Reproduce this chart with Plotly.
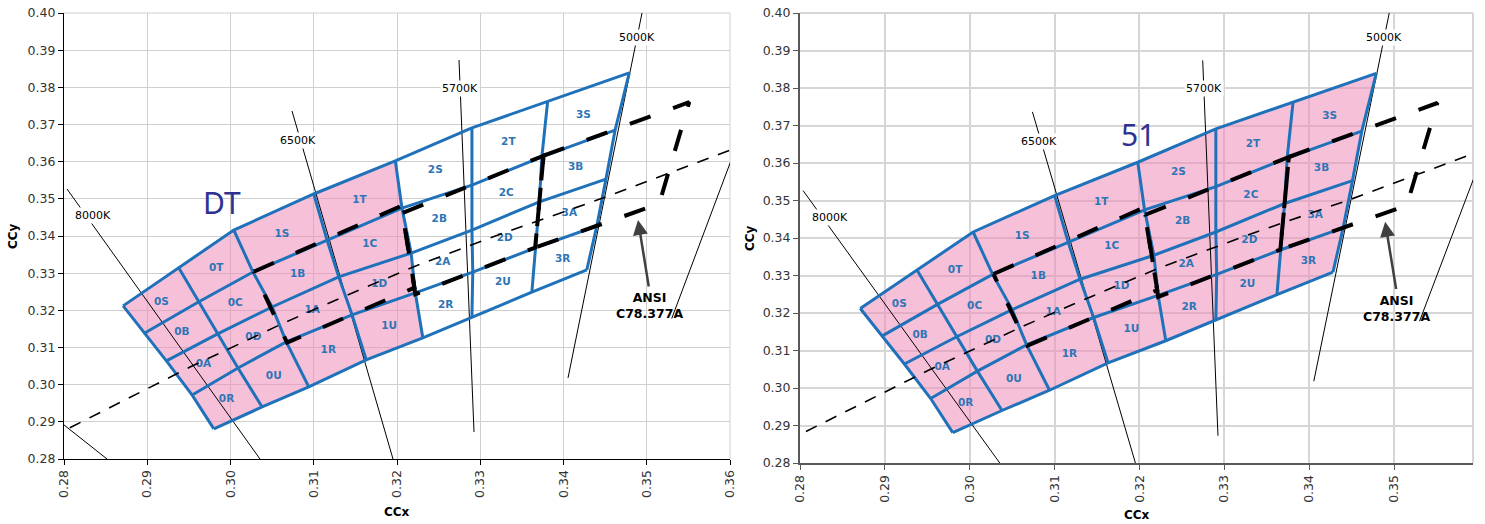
import plotly.graph_objects as go

# ---------------- data ----------------
# grid node coordinates (CIE x, y); rows = bin boundaries from top (S/T side) to bottom (R/U side)
row0_x = [0.2871, 0.2938, 0.3004, 0.3100, 0.3198, 0.3290, 0.3381, 0.3479]
row0_y = [0.3212, 0.3314, 0.3416, 0.3513, 0.3602, 0.3691, 0.3763, 0.3839]
row1_x = [0.2897, 0.2962, 0.3027, 0.3116, 0.3206, 0.3290, 0.3374, 0.3462]
row1_y = [0.3139, 0.3223, 0.3303, 0.3389, 0.3475, 0.3537, 0.3613, 0.3685]
row2_x = [0.2923, 0.2984, 0.3050, 0.3130, 0.3217, 0.3290, 0.3371, 0.3451]
row2_y = [0.3064, 0.3136, 0.3209, 0.3290, 0.3354, 0.3416, 0.3492, 0.3553]
row3_x = [0.2954, 0.3009, 0.3067, 0.3146, 0.3222, 0.3291, 0.3366, 0.3440]
row3_y = [0.2972, 0.3045, 0.3115, 0.3188, 0.3247, 0.3303, 0.3368, 0.3427]
row4_x = [0.2980, 0.3038, 0.3094, 0.3163, 0.3231, 0.3290, 0.3362, 0.3428]
row4_y = [0.2881, 0.2940, 0.2994, 0.3067, 0.3126, 0.3182, 0.3249, 0.3309]
rows_x = [row0_x, row1_x, row2_x, row3_x, row4_x]
rows_y = [row0_y, row1_y, row2_y, row3_y, row4_y]

bin_names = [
    ["0S", "0T", "1S", "1T", "2S", "2T", "3S"],
    ["0B", "0C", "1B", "1C", "2B", "2C", "3B"],
    ["0A", "0D", "1A", "1D", "2A", "2D", "3A"],
    ["0R", "0U", "1R", "1U", "2R", "2U", "3R"],
]

# ANSI C78.377A quadrangles
ansi_6500_x = [0.3028, 0.3205, 0.3221, 0.3068]
ansi_6500_y = [0.3304, 0.3481, 0.3261, 0.3113]
ansi_5700_x = [0.3207, 0.3376, 0.3366, 0.3222]
ansi_5700_y = [0.3462, 0.3616, 0.3369, 0.3243]
ansi_5000_x = [0.3376, 0.3551, 0.3515, 0.3366]
ansi_5000_y = [0.3616, 0.3760, 0.3487, 0.3369]

# Planckian locus
planck_x = [0.2807, 0.2952, 0.3064, 0.3135, 0.3221, 0.3324, 0.3451, 0.3611]
planck_y = [0.2884, 0.3048, 0.3166, 0.3236, 0.3318, 0.3405, 0.3505, 0.3640]

# isotherm lines
iso_8000_x = [0.28036, 0.30354]; iso_8000_y = [0.35265, 0.28]
iso_6500_x = [0.30739, 0.31952]; iso_6500_y = [0.37363, 0.28]
iso_5700_x = [0.32745, 0.32925]; iso_5700_y = [0.38736, 0.28727]
iso_5000_x = [0.34943, 0.34054]; iso_5000_y = [0.40, 0.30180]
iso_4500_x = [0.3530, 0.3620];   iso_4500_y = [0.3178, 0.3715]
iso_10000_x = [0.2800, 0.28517]; iso_10000_y = [0.28916, 0.28]

iso_labels = ["8000K", "6500K", "5700K", "5000K"]
iso_label_x = [0.28348, 0.30811, 0.32757, 0.34883]
iso_label_y = [0.34539, 0.36583, 0.37982, 0.39354]

ansi_label_pos = (0.3503, 0.3212)
arrow_head = (0.34895, 0.34431)
arrow_tail = (0.35027, 0.32602)

x_ticks = [0.28, 0.29, 0.30, 0.31, 0.32, 0.33, 0.34, 0.35, 0.36]
y_ticks = [0.28, 0.29, 0.30, 0.31, 0.32, 0.33, 0.34, 0.35, 0.36, 0.37, 0.38, 0.39, 0.40]

# ---------------- style / page geometry ----------------
BLUE = "#1F72BA"
LABEL_BLUE = "#2E75B6"
PINK = "rgba(240,140,185,0.55)"
FONT = "DejaVu Sans"

W, H = 1485, 524


def fx(px):
    return px / W


def fy(py):
    return 1 - py / H


fig = go.Figure()


def add_chart(xa, ya, pink_cols, big_text, big_pos, extra_line):
    px = rows_x[0][:pink_cols + 1] + [rows_x[k][pink_cols] for k in range(1, 5)] \
        + rows_x[4][:pink_cols][::-1] + [rows_x[k][0] for k in range(3, -1, -1)]
    py = rows_y[0][:pink_cols + 1] + [rows_y[k][pink_cols] for k in range(1, 5)] \
        + rows_y[4][:pink_cols][::-1] + [rows_y[k][0] for k in range(3, -1, -1)]
    fig.add_trace(go.Scatter(x=px, y=py, fill="toself", fillcolor=PINK, mode="none",
                             xaxis=xa, yaxis=ya, hoverinfo="skip", showlegend=False))
    isos = [(iso_8000_x, iso_8000_y), (iso_6500_x, iso_6500_y), (iso_5700_x, iso_5700_y),
            (iso_5000_x, iso_5000_y), (iso_4500_x, iso_4500_y)]
    if extra_line:
        isos.append((iso_10000_x, iso_10000_y))
    for ix, iy in isos:
        fig.add_trace(go.Scatter(x=ix, y=iy, mode="lines", line=dict(color="black", width=1),
                                 xaxis=xa, yaxis=ya, hoverinfo="skip", showlegend=False))
    for k in range(5):
        fig.add_trace(go.Scatter(x=rows_x[k], y=rows_y[k], mode="lines",
                                 line=dict(color=BLUE, width=3),
                                 xaxis=xa, yaxis=ya, hoverinfo="skip", showlegend=False))
    for c in range(8):
        fig.add_trace(go.Scatter(x=[rows_x[k][c] for k in range(5)],
                                 y=[rows_y[k][c] for k in range(5)], mode="lines",
                                 line=dict(color=BLUE, width=3),
                                 xaxis=xa, yaxis=ya, hoverinfo="skip", showlegend=False))
    lx, ly, lt = [], [], []
    for r in range(4):
        for c in range(7):
            cx = (rows_x[r][c] + rows_x[r][c + 1] + rows_x[r + 1][c] + rows_x[r + 1][c + 1]) / 4
            cy = (rows_y[r][c] + rows_y[r][c + 1] + rows_y[r + 1][c] + rows_y[r + 1][c + 1]) / 4
            lx.append(cx); ly.append(cy); lt.append(bin_names[r][c])
    fig.add_trace(go.Scatter(x=lx, y=ly, text=lt, mode="text",
                             textfont=dict(family=FONT, size=10.5, color=LABEL_BLUE, weight="bold"),
                             xaxis=xa, yaxis=ya, hoverinfo="skip", showlegend=False))
    fig.add_trace(go.Scatter(x=planck_x, y=planck_y, mode="lines",
                             line=dict(color="black", width=1.6, dash="12px,10px"),
                             xaxis=xa, yaxis=ya, hoverinfo="skip", showlegend=False))
    for qx, qy in [(ansi_6500_x, ansi_6500_y), (ansi_5700_x, ansi_5700_y), (ansi_5000_x, ansi_5000_y)]:
        fig.add_trace(go.Scatter(x=qx + qx[:1], y=qy + qy[:1], mode="lines",
                                 line=dict(color="black", width=4, dash="22px,24px"),
                                 xaxis=xa, yaxis=ya, hoverinfo="skip", showlegend=False))

    anns = []
    for t, tx, ty in zip(iso_labels, iso_label_x, iso_label_y):
        anns.append(dict(x=tx, y=ty, xref=xa, yref=ya, text=t, showarrow=False,
                         xanchor="center", yanchor="middle",
                         bgcolor="white", borderpad=1,
                         font=dict(family=FONT, size=11, color="black")))
    anns.append(dict(x=ansi_label_pos[0], y=ansi_label_pos[1], xref=xa, yref=ya,
                     xanchor="center", yanchor="middle",
                     text="<b>ANSI</b><br><b>C78.377A</b>", showarrow=False,
                     font=dict(family=FONT, size=12.5, color="black")))
    anns.append(dict(x=arrow_head[0], y=arrow_head[1], ax=arrow_tail[0], ay=arrow_tail[1],
                     xref=xa, yref=ya, axref=xa, ayref=ya, text="", showarrow=True,
                     arrowhead=2, arrowsize=1.2, arrowwidth=2.5, arrowcolor="#404040"))
    anns.append(dict(x=big_pos[0], y=big_pos[1], xref=xa, yref=ya, text=big_text,
                     xanchor="center", yanchor="middle",
                     showarrow=False, font=dict(family="Noto Sans", size=30, color="#2E3192")))
    return anns


anns = []
anns += add_chart("x", "y", 4, "DT", (0.29898, 0.34889), True)
anns += add_chart("x2", "y2", 7, "51", (0.3198, 0.3675), False)

for tx, ty in [(397, 512), (1137, 515)]:
    anns.append(dict(x=fx(tx), y=fy(ty), xref="paper", yref="paper", text="<b>CCx</b>",
                     xanchor="center", yanchor="middle",
                     showarrow=False, font=dict(family=FONT, size=12, color="black")))
for tx, ty in [(13, 236), (750, 238)]:
    anns.append(dict(x=fx(tx), y=fy(ty), xref="paper", yref="paper", text="<b>CCy</b>",
                     xanchor="center", yanchor="middle",
                     showarrow=False, textangle=-90, font=dict(family=FONT, size=12, color="black")))

axis_common = dict(showgrid=True, zeroline=False, ticks="outside", ticklen=5,
                   tickformat=".2f", tickfont=dict(family=FONT, size=12.5, color="#333333"),
                   automargin=False, showline=True, ticklabeloverflow="allow")

fig.update_layout(
    width=W, height=H,
    margin=dict(l=0, r=0, t=0, b=0),
    paper_bgcolor="white", plot_bgcolor="white",
    showlegend=False,
    xaxis=dict(domain=[fx(64), fx(730)], range=[0.28, 0.36], tickvals=x_ticks,
               tickangle=-90, gridcolor="#CFCFCF", gridwidth=1, linecolor="black",
               linewidth=1.2, tickcolor="black", anchor="y", **axis_common),
    yaxis=dict(domain=[fy(459), fy(13)], range=[0.28, 0.40], tickvals=y_ticks,
               gridcolor="#CFCFCF", gridwidth=1, linecolor="black", linewidth=1.2,
               tickcolor="black", anchor="x", **axis_common),
    xaxis2=dict(domain=[fx(800), fx(1473)], range=[0.28, 0.3593], tickvals=x_ticks[:-1],
                tickangle=-90, gridcolor="#D6D6D6", gridwidth=2, linecolor="#595959",
                linewidth=2, tickcolor="#595959", anchor="y2", **axis_common),
    yaxis2=dict(domain=[fy(463), fy(13)], range=[0.28, 0.40], tickvals=y_ticks,
                gridcolor="#D6D6D6", gridwidth=2, linecolor="#595959", linewidth=2,
                tickcolor="#595959", anchor="x2", **axis_common),
    annotations=anns,
    shapes=[
        dict(type="line", xref="x2 domain", yref="y2 domain", x0=1, x1=1, y0=0, y1=1,
             line=dict(color="#D6D6D6", width=2), layer="below"),
        dict(type="line", xref="x2 domain", yref="y2 domain", x0=0, x1=1, y0=1, y1=1,
             line=dict(color="#D6D6D6", width=2), layer="below"),
        dict(type="line", xref="x domain", yref="y domain", x0=1, x1=1, y0=0, y1=1,
             line=dict(color="#CFCFCF", width=1), layer="below"),
        dict(type="line", xref="x domain", yref="y domain", x0=0, x1=1, y0=1, y1=1,
             line=dict(color="#CFCFCF", width=1), layer="below"),
    ],
)

fig.write_html("out.html", config={"displayModeBar": False},
               post_script="document.body.style.margin='0px';document.body.style.overflow='hidden';")
